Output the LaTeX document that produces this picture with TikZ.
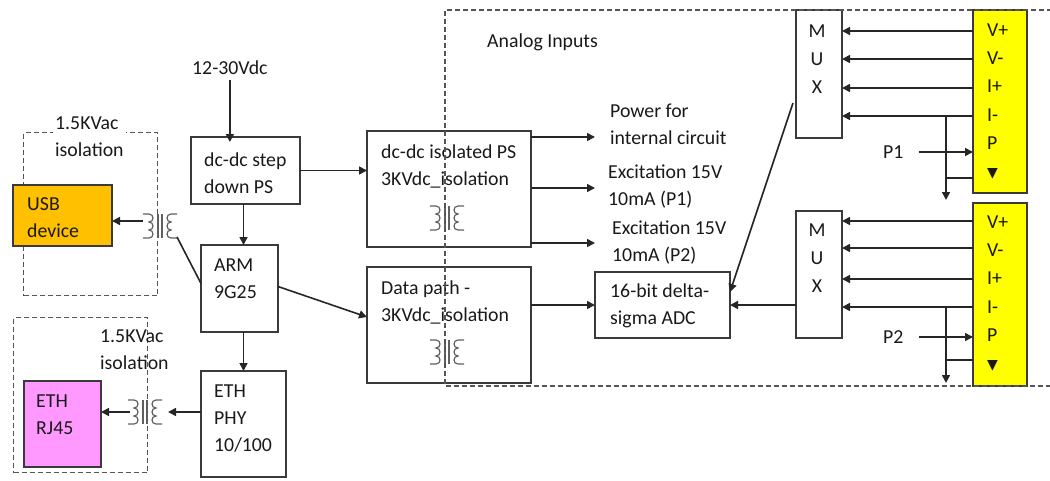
\documentclass[tikz,border=0pt]{standalone}
\usepackage{fontspec}
\setmainfont{Carlito}
\newfontfamily\symfont{DejaVu Sans}
\usetikzlibrary{arrows.meta,calc}
\definecolor{usbor}{HTML}{FFC000}
\definecolor{ethpk}{HTML}{FF99FF}
\definecolor{yel}{HTML}{FFFF00}
\definecolor{lncol}{HTML}{3A3A3A}
\definecolor{dashcol}{HTML}{555555}
\definecolor{xfcol}{HTML}{606060}
\begin{document}
\begin{tikzpicture}[x=1pt,y=-1pt,
  every node/.style={font=\fontsize{19.8}{27}\selectfont, text=black!90},
  blk/.style={draw=lncol, line width=1.6pt, anchor=north west, inner sep=0pt, outer sep=0pt},
  lbl/.style={align=left, anchor=west, inner sep=0pt},
  arr/.style={line width=1.6pt, draw=black!85, -{Triangle[length=8pt,width=8pt]}},
  wire/.style={line width=1.6pt, draw=black!85},
  iso/.style={draw=dashcol, line width=1.4pt, dash pattern=on 5pt off 3pt},
  xfmr/.pic={
    \draw[xfcol, line width=1.2pt]
      (-17,-12) -- (-11,-12)
      .. controls (-5.7,-12) and (-5.7,-4) .. (-11,-4)
      .. controls (-5.7,-4) and (-5.7,4) .. (-11,4)
      .. controls (-5.7,4) and (-5.7,12) .. (-11,12) -- (-17,12);
    \draw[xfcol, line width=1.2pt]
      (17,-12) -- (11,-12)
      .. controls (5.7,-12) and (5.7,-4) .. (11,-4)
      .. controls (5.7,-4) and (5.7,4) .. (11,4)
      .. controls (5.7,4) and (5.7,12) .. (11,12) -- (17,12);
    \draw[xfcol, line width=1.2pt] (-2,-12) -- (-2,12) (2,-12) -- (2,12);
  }
]
\useasboundingbox (0,0) rectangle (1050,480);

% isolation regions (left)
\node[iso, anchor=north west, inner sep=0pt, minimum width=134pt, minimum height=163pt] (usbiso) at (23,132) {};
\node[iso, anchor=north west, inner sep=0pt, minimum width=134pt, minimum height=155pt] (ethiso) at (13,317) {};
\node[lbl, fill=white, inner sep=2pt] (usbisotxt) at (53,137) {1.5KVac\\isolation};
\node[lbl] (ethisotxt) at (100,350) {1.5KVac\\isolation};

% blocks
\node[blk, fill=usbor, minimum width=99pt, minimum height=61pt] (usb) at (13,185) {};
\node[blk, fill=ethpk, minimum width=77pt, minimum height=86pt] (rj45) at (24,381) {};
\node[blk, minimum width=109pt, minimum height=67pt] (step) at (191,137) {};
\node[blk, minimum width=77pt, minimum height=87pt] (arm) at (201,245) {};
\node[blk, minimum width=85pt, minimum height=106pt] (phy) at (201,371) {};
\node[blk, minimum width=164pt, minimum height=116pt] (isops) at (367,131) {};
\node[blk, minimum width=164pt, minimum height=116pt] (dpath) at (367,267) {};
\node[blk, minimum width=135pt, minimum height=66pt] (adc) at (595,272) {};
\node[blk, minimum width=46pt, minimum height=128pt] (mux1) at (796,10) {};
\node[blk, minimum width=46pt, minimum height=127pt] (mux2) at (796,211) {};
\node[blk, fill=yel, minimum width=54pt, minimum height=183pt] (yel1) at (973,10) {};
\node[blk, fill=yel, minimum width=54pt, minimum height=183pt] (yel2) at (973,203) {};

% texts
\node[lbl] (vin) at (192,68) {12-30Vdc};
\node[lbl] (usbtxt) at (27,218) {USB\\device};
\node[lbl] (rjtxt) at (36,415) {ETH\\RJ45};
\node[lbl] (steptxt) at (204,173) {dc-dc step\\down PS};
\node[lbl] (armtxt) at (214,279) {ARM\\9G25};
\node[lbl] (phytxt) at (214,419) {ETH\\PHY\\10/100};
\node[lbl] (isotxt) at (381,166) {dc-dc isolated PS\\3KVdc\_isolation};
\node[lbl] (dptxt) at (381,302) {Data path -\\3KVdc\_isolation};
\node[lbl] (adctxt) at (610,306) {16-bit delta-\\sigma ADC};
\node[lbl] (pwr) at (610,124) {Power for\\internal circuit};
\node[lbl] (exc1) at (608,187) {Excitation 15V\\10mA (P1)};
\node[lbl] (exc2) at (612,243) {Excitation 15V\\10mA (P2)};
\node[lbl] (analog) at (487,42) {Analog Inputs};
\node[align=center, inner sep=0pt, font=\fontsize{19.8}{28}\selectfont] (m1txt) at (817,59) {M\\U\\X};
\node[align=center, inner sep=0pt, font=\fontsize{19.8}{28}\selectfont] (m2txt) at (817,258) {M\\U\\X};
\node[lbl, font=\fontsize{19.8}{28.2}\selectfont] (y1txt) at (987,101.5) {V+\\V-\\I+\\I-\\P\\{\symfont\fontsize{14}{28.2}\selectfont ▼}};
\node[lbl, font=\fontsize{19.8}{28.2}\selectfont] (y2txt) at (987,293.5) {V+\\V-\\I+\\I-\\P\\{\symfont\fontsize{14}{28.2}\selectfont ▼}};
\node[lbl] (p1) at (883,152) {P1};
\node[lbl] (p2) at (883,337) {P2};

% transformers
\coordinate (t1) at (160,226);
\coordinate (t2) at (145,412);
\coordinate (t3) at (447,218);
\coordinate (t4) at (447,352);
\pic at (t1) {xfmr};
\pic at (t2) {xfmr};
\pic at (t3) {xfmr};
\pic at (t4) {xfmr};

% connectors left part
\draw[arr] ([yshift=-5pt]vin.south) -- ([yshift=-5pt]vin.south |- step.north);
\draw[arr] ([xshift=4pt]arm.north |- step.south) -- ([xshift=4pt]arm.north);
\draw[arr] ([xshift=4pt]arm.south) -- ([xshift=4pt]arm.south |- phy.north);
\draw[arr] (step.east) -- (step.east -| isops.west);
\draw[arr] ([yshift=2pt]arm.east) -- ([yshift=8pt]dpath.west);
\draw[arr] ([xshift=-17pt,yshift=5pt]t1) -- ([yshift=5pt]t1 -| usb.east);
\draw[wire] ([yshift=5pt]arm.west) -- ([xshift=17pt,yshift=-11pt]t1);
\draw[arr] ([yshift=12pt]phy.west) -- ([xshift=23pt,yshift=12pt]phy.west -| t2);
\draw[arr] ([xshift=-15pt]t2) -- (t2 -| rj45.east);

% power outputs
\coordinate (pwrin) at (595,137);
\coordinate (exc1in) at (595,188);
\coordinate (exc2in) at (595,243);
\draw[arr] (isops.east |- pwrin) -- (pwrin);
\draw[arr] (isops.east |- exc1in) -- (exc1in);
\draw[arr] (isops.east |- exc2in) -- (exc2in);

% ADC connections
\draw[arr] (adc.west -| dpath.east) -- (adc.west);
\draw[arr] (adc.east -| mux2.west) -- (adc.east);
\draw[arr] ([xshift=-3pt,yshift=-29pt]mux1.west) -- ([yshift=-20pt]adc.north east);

% sensor 1 to mux1
\foreach \o in {21,49,78,106}
  \draw[arr] ([yshift=-\o pt]yel1.north west) -- ([yshift=-\o pt]yel1.north west -| mux1.east);
\coordinate (tap1) at ([xshift=-27pt,yshift=-106pt]yel1.north west);
\coordinate (gnd1) at ([xshift=-27pt,yshift=-7pt]yel1.south west);
\draw[arr] (tap1) -- (gnd1);
\draw[wire] ([yshift=15pt]yel1.south west -| tap1) -- ([yshift=15pt]yel1.south west);
\draw[arr] ([xshift=15pt]p1.east) -- (p1.east -| yel1.west);

% sensor 2 to mux2
\foreach \o in {18,45,76,104}
  \draw[arr] ([yshift=-\o pt]yel2.north west) -- ([yshift=-\o pt]yel2.north west -| mux2.east);
\coordinate (tap2) at ([xshift=-27pt,yshift=-104pt]yel2.north west);
\coordinate (gnd2) at ([xshift=-27pt,yshift=3pt]yel2.south west);
\draw[arr] (tap2) -- (gnd2);
\draw[wire] ([yshift=26pt]yel2.south west -| tap2) -- ([yshift=26pt]yel2.south west);
\draw[arr] ([xshift=15pt]p2.east) -- (p2.east -| yel2.west);

% analog inputs region
\draw[iso] (1052,10) -- (445,10) -- (445,386) -- (1052,386);
\end{tikzpicture}
\end{document}
